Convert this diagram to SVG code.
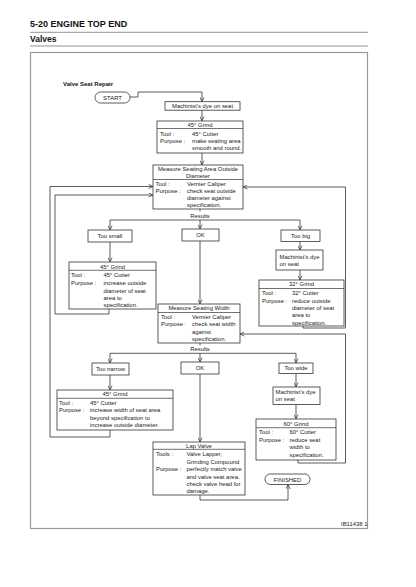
<svg xmlns="http://www.w3.org/2000/svg" width="416" height="587" viewBox="0 0 416 587">
<style>
.t{font-family:"Liberation Sans",Arial,sans-serif;font-size:5.9px;fill:#222}
.c{text-anchor:middle}
.h{font-family:"Liberation Sans",Arial,sans-serif;font-weight:bold;fill:#111}
.box{fill:#fff;stroke:#333;stroke-width:0.8}
.sep{stroke:#333;stroke-width:0.7}
.conn{fill:none;stroke:#333;stroke-width:0.8;marker-end:url(#arr)}
.ln{fill:none;stroke:#333;stroke-width:0.8}
</style>
<defs>
<marker id="arr" viewBox="0 0 6 6" refX="5.5" refY="3" markerWidth="5" markerHeight="5" markerUnits="userSpaceOnUse" orient="auto">
<path d="M0.5,0.5 L5.5,3 L0.5,5.5" fill="none" stroke="#333" stroke-width="0.9"/>
</marker>
</defs>
<rect width="416" height="587" fill="#fff"/>
<text class="h" x="30" y="27.3" font-size="9">5-20 ENGINE TOP END</text>
<line x1="30" y1="32.3" x2="368" y2="32.3" stroke="#888" stroke-width="0.9"/>
<text class="h" x="30" y="41.7" font-size="8.5">Valves</text>
<line x1="30" y1="46" x2="368" y2="46" stroke="#888" stroke-width="0.9"/>
<rect x="30.5" y="52.5" width="337" height="476" fill="none" stroke="#999" stroke-width="1.2"/>
<text class="h" x="63" y="86" font-size="6">Valve Seat Repair</text>
<text class="t" x="341" y="525.5" font-size="3.8" fill="#666">IB11438 1</text>

<g id="connectors">
<path class="conn" d="M130,97 H138 V92 H202 V101.5"/>
<path class="conn" d="M202,110 V120.8"/>
<path class="conn" d="M202,153 V164.8"/>
<path class="ln" d="M200,209 V211.5"/>
<text class="t c" x="200" y="217.8">Results</text>
<path class="ln" d="M110,220 H300"/>
<path class="conn" d="M110,220 V229.8"/>
<path class="conn" d="M200,220 V228.8"/>
<path class="conn" d="M300,220 V229.8"/>
<path class="conn" d="M110,242 V261.8"/>
<path class="conn" d="M109,309 V314 H55 V195 H152.8"/>
<path class="conn" d="M200,241 V303.8"/>
<path class="conn" d="M300,241.5 V249.8"/>
<path class="conn" d="M300,270 V279.8"/>
<path class="conn" d="M303,326 V328 H345.5 V187 H243.2"/>
<path class="ln" d="M200,343 V345.5"/>
<text class="t c" x="200" y="351.3">Results</text>
<path class="ln" d="M110,353.3 H296"/>
<path class="conn" d="M110,353.3 V362.8"/>
<path class="conn" d="M200,353.3 V361.8"/>
<path class="conn" d="M296,353.3 V362.8"/>
<path class="conn" d="M110,375 V389.8"/>
<path class="conn" d="M110,430 V437 H50 V186.5 H152.8"/>
<path class="conn" d="M200,374 V441.8"/>
<path class="conn" d="M296,373.5 V386.8"/>
<path class="conn" d="M296,404.5 V418.8"/>
<path class="conn" d="M298,460 V463 H345.5 V334 H240.2"/>
<path class="conn" d="M200,495 V500 H288 V484.8"/>
</g>

<g id="start">
<rect class="box" x="95" y="92" width="35" height="11" rx="5.5"/>
<text class="t c" x="112.5" y="99.7">START</text>
</g>

<g id="dye1">
<rect class="box" x="165" y="101.7" width="75" height="8.5"/>
<text class="t c" x="202.5" y="108.2">Machinist's dye on seat</text>
</g>

<g id="grind45a">
<rect class="box" x="157" y="121" width="86" height="32"/>
<line class="sep" x1="157" y1="128.5" x2="243" y2="128.5"/>
<text class="t c" x="200" y="126.8">45° Grind</text>
<text class="t" x="160" y="135.5">Tool :</text>
<text class="t" x="192" y="135.5">45° Cutter</text>
<text class="t" x="160" y="142.8">Purpose :</text>
<text class="t" x="192" y="142.8">make seating area</text>
<text class="t" x="192" y="150.1">smooth and round.</text>
</g>

<g id="measureOD">
<rect class="box" x="153" y="165" width="90" height="44"/>
<line class="sep" x1="153" y1="179.5" x2="243" y2="179.5"/>
<text class="t c" x="198" y="171">Measure Seating Area Outside</text>
<text class="t c" x="198" y="177.5">Diameter</text>
<text class="t" x="155.5" y="185.8">Tool :</text>
<text class="t" x="187" y="185.8">Vernier Caliper</text>
<text class="t" x="155.5" y="193">Purpose :</text>
<text class="t" x="187" y="193">check seat outside</text>
<text class="t" x="187" y="200.3">diameter against</text>
<text class="t" x="187" y="207.4">specification.</text>
</g>

<g id="toosmall">
<rect class="box" x="88" y="230" width="44" height="12"/>
<text class="t c" x="110" y="238.2">Too small</text>
</g>

<g id="ok1">
<rect class="box" x="182" y="229" width="37" height="12"/>
<text class="t c" x="200.5" y="237.3">OK</text>
</g>

<g id="toobig">
<rect class="box" x="281" y="230" width="39" height="11.5"/>
<text class="t c" x="300.5" y="237.9">Too big</text>
</g>

<g id="grind45b">
<rect class="box" x="69" y="262" width="87" height="47"/>
<line class="sep" x1="69" y1="270.3" x2="156" y2="270.3"/>
<text class="t c" x="112.5" y="268.7">45° Grind</text>
<text class="t" x="71" y="277.3">Tool :</text>
<text class="t" x="103.5" y="277.3">45° Cutter</text>
<text class="t" x="71" y="285.3">Purpose :</text>
<text class="t" x="103.5" y="285.3">increase outside</text>
<text class="t" x="103.5" y="292.7">diameter of seat</text>
<text class="t" x="103.5" y="299.9">area to</text>
<text class="t" x="103.5" y="307.1">specification.</text>
</g>

<g id="dye2">
<rect class="box" x="276" y="250" width="47" height="20"/>
<text class="t" x="279.5" y="258.5">Machinist's dye</text>
<text class="t" x="279.5" y="266">on seat</text>
</g>

<g id="grind32">
<rect class="box" x="259" y="280" width="85" height="46"/>
<line class="sep" x1="259" y1="288.5" x2="344" y2="288.5"/>
<text class="t c" x="301.5" y="286.4">32° Grind</text>
<text class="t" x="262" y="294.8">Tool :</text>
<text class="t" x="292" y="294.8">32° Cutter</text>
<text class="t" x="262" y="302.6">Purpose :</text>
<text class="t" x="292" y="302.6">reduce outside</text>
<text class="t" x="292" y="310.1">diameter of seat</text>
<text class="t" x="292" y="317.3">area to</text>
<text class="t" x="292" y="324.6">specification.</text>
</g>

<g id="measureSW">
<rect class="box" x="158" y="304" width="82" height="39"/>
<line class="sep" x1="158" y1="312.5" x2="240" y2="312.5"/>
<text class="t c" x="199" y="310.4">Measure Seating Width</text>
<text class="t" x="161" y="318.9">Tool :</text>
<text class="t" x="192" y="318.9">Vernier Caliper</text>
<text class="t" x="161" y="326.2">Purpose :</text>
<text class="t" x="192" y="326.2">check seat width</text>
<text class="t" x="192" y="333.7">against</text>
<text class="t" x="192" y="341">specification.</text>
</g>

<g id="toonarrow">
<rect class="box" x="92" y="363" width="37" height="12"/>
<text class="t c" x="110.5" y="371.2">Too narrow</text>
</g>

<g id="ok2">
<rect class="box" x="181" y="362" width="38" height="12"/>
<text class="t c" x="200" y="370.3">OK</text>
</g>

<g id="toowide">
<rect class="box" x="279" y="363" width="34" height="10.5"/>
<text class="t c" x="296" y="370.4">Too wide</text>
</g>

<g id="grind45c">
<rect class="box" x="57" y="390" width="116" height="40"/>
<line class="sep" x1="57" y1="398.3" x2="173" y2="398.3"/>
<text class="t c" x="115" y="395.6">45° Grind</text>
<text class="t" x="59" y="404.9">Tool :</text>
<text class="t" x="90" y="404.9">45° Cutter</text>
<text class="t" x="59" y="412.2">Purpose :</text>
<text class="t" x="90" y="412.2">increase width of seat area</text>
<text class="t" x="90" y="419.8">beyond specification to</text>
<text class="t" x="90" y="427.2">increase outside diameter.</text>
</g>

<g id="dye3">
<rect class="box" x="273" y="387" width="47" height="17.5"/>
<text class="t" x="275.5" y="393.8">Machinist's dye</text>
<text class="t" x="275.5" y="401.2">on seat</text>
</g>

<g id="grind60">
<rect class="box" x="256" y="419" width="80" height="41"/>
<line class="sep" x1="256" y1="427.7" x2="336" y2="427.7"/>
<text class="t c" x="296" y="425.7">60° Grind</text>
<text class="t" x="259" y="433.6">Tool :</text>
<text class="t" x="289.5" y="433.6">60° Cutter</text>
<text class="t" x="259" y="441.5">Purpose :</text>
<text class="t" x="289.5" y="441.5">reduce seat</text>
<text class="t" x="289.5" y="449.2">width to</text>
<text class="t" x="289.5" y="456.7">specification.</text>
</g>

<g id="lapvalve">
<rect class="box" x="153" y="442" width="92" height="53"/>
<line class="sep" x1="153" y1="449.3" x2="245" y2="449.3"/>
<text class="t c" x="199" y="447.7">Lap Valve</text>
<text class="t" x="156" y="456.2">Tools :</text>
<text class="t" x="186.5" y="456.2">Valve Lapper,</text>
<text class="t" x="186.5" y="463.7">Grinding Compound</text>
<text class="t" x="156" y="471.1">Purpose :</text>
<text class="t" x="186.5" y="471.1">perfectly match valve</text>
<text class="t" x="186.5" y="478.7">and valve seat area.</text>
<text class="t" x="186.5" y="486.1">check valve head for</text>
<text class="t" x="186.5" y="493.4">damage.</text>
</g>

<g id="finished">
<rect class="box" x="265" y="474" width="45" height="10.5" rx="5.2"/>
<text class="t c" x="287.5" y="481.5">FINISHED</text>
</g>
</svg>
